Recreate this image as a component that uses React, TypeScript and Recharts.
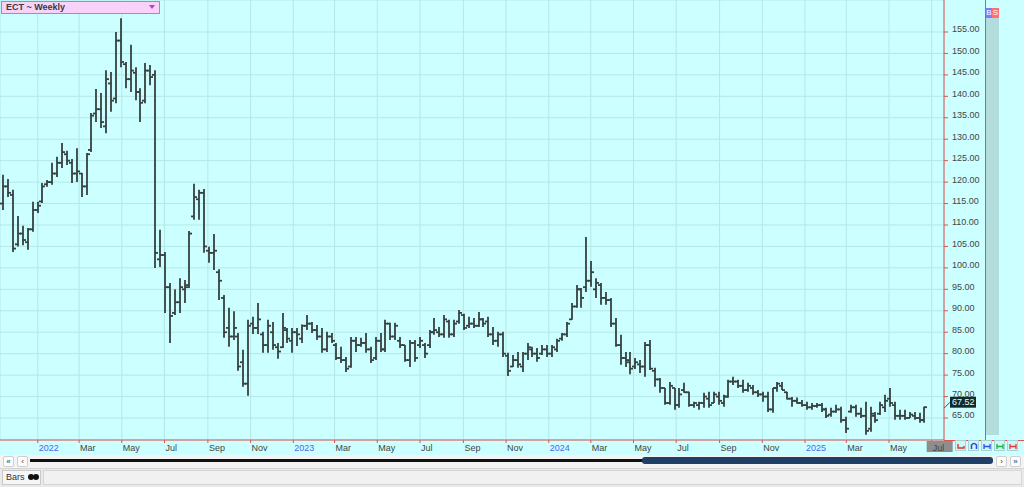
import React from "react";
import { Bar, CartesianGrid, ComposedChart, ReferenceDot, XAxis, YAxis } from "recharts";

// weekly bars, first bar week of 2021-11-13
const weekStart = "2021-11-13";

const highs = [
  121.7, 120.7, 118.2, 112.1, 109.8, 109.3, 115.4, 115.4, 119.8, 120.5,
  124.5, 125.9, 129.1, 127.3, 125.4, 127.9, 122.1, 126.8, 136.1, 141.7,
  140.8, 146.1, 145.7, 155.0, 158.2, 148.0, 152.0, 146.8, 141.9, 147.8,
  147.3, 146.1, 108.9, 103.7, 96.5, 95.0, 97.6, 97.2, 108.6, 119.6,
  118.2, 118.4, 104.9, 107.9, 99.7, 93.7, 90.7, 89.9, 84.8, 80.9,
  87.9, 88.6, 91.8, 85.1, 87.9, 87.4, 82.5, 89.5, 86.0, 86.0,
  86.0, 86.8, 89.0, 87.4, 86.7, 86.0, 85.1, 84.8, 82.5, 81.6,
  79.2, 83.9, 83.9, 83.7, 84.8, 81.6, 83.9, 84.8, 87.9, 87.2,
  87.2, 83.9, 82.0, 83.2, 83.2, 83.9, 82.5, 85.5, 88.3, 86.2,
  89.0, 87.9, 87.9, 90.2, 89.3, 88.6, 88.3, 89.7, 88.3, 88.6,
  86.2, 85.1, 85.1, 80.2, 79.7, 80.4, 80.4, 82.5, 81.6, 81.3,
  82.0, 82.0, 82.0, 83.5, 84.8, 87.4, 91.8, 96.0, 95.3, 107.2,
  101.6, 97.6, 96.5, 94.4, 93.0, 88.3, 84.4, 80.4, 80.4, 79.0,
  78.5, 82.7, 83.2, 76.7, 74.3, 72.0, 73.4, 72.0, 72.0, 73.2,
  71.1, 68.8, 68.8, 70.9, 71.1, 71.1, 71.1, 70.4, 73.9, 74.6,
  73.9, 73.9, 73.2, 72.7, 71.5, 71.1, 71.1, 72.0, 73.4, 73.4,
  71.1, 69.9, 69.8, 69.2, 68.8, 68.5, 68.5, 68.5, 67.4, 67.4,
  68.1, 67.6, 65.3, 68.1, 68.1, 67.4, 68.8, 67.6, 66.4, 68.8,
  70.4, 72.0, 68.8, 66.9, 66.9, 66.4, 66.4, 66.2, 67.6,
];

const lows = [
  113.5, 116.5, 103.7, 105.0, 105.3, 104.2, 108.4, 112.8, 115.1, 118.9,
  119.4, 121.2, 123.3, 124.0, 119.8, 120.0, 116.5, 117.0, 127.0, 134.0,
  132.6, 131.4, 136.4, 138.4, 146.8, 141.9, 141.0, 139.1, 134.0, 138.4,
  142.6, 100.0, 100.2, 89.5, 82.5, 89.0, 89.5, 91.8, 95.3, 111.2,
  111.2, 103.5, 101.2, 99.5, 92.5, 83.7, 81.6, 83.2, 76.0, 72.3,
  70.2, 84.6, 84.6, 80.2, 80.2, 80.9, 78.8, 81.3, 82.5, 80.2,
  81.8, 82.5, 85.5, 84.8, 83.2, 80.2, 80.4, 82.5, 78.5, 77.8,
  75.7, 76.7, 80.4, 81.6, 80.2, 77.8, 78.5, 80.4, 80.4, 83.2,
  83.2, 81.3, 78.1, 76.9, 78.1, 81.3, 79.0, 81.3, 84.4, 83.9,
  83.7, 83.7, 83.9, 87.0, 85.5, 86.0, 86.0, 86.2, 86.2, 83.9,
  82.0, 81.6, 79.2, 74.8, 76.9, 76.7, 75.7, 78.5, 79.2, 78.1,
  79.7, 79.2, 79.2, 80.4, 83.0, 83.9, 87.9, 90.7, 90.7, 94.4,
  95.6, 93.0, 91.4, 91.4, 86.2, 81.6, 77.4, 76.9, 75.2, 76.4,
  75.5, 74.6, 76.2, 72.3, 70.9, 68.1, 68.1, 66.9, 67.4, 70.9,
  67.6, 67.4, 66.9, 67.4, 67.4, 68.5, 68.1, 67.6, 69.7, 72.7,
  72.0, 70.9, 71.1, 70.4, 69.9, 68.8, 66.4, 66.2, 71.1, 71.5,
  69.3, 67.6, 68.3, 67.6, 66.9, 66.9, 67.4, 66.4, 65.0, 65.3,
  66.2, 63.9, 61.5, 66.2, 65.3, 65.0, 61.1, 61.8, 63.9, 65.7,
  66.4, 67.6, 64.6, 64.6, 64.6, 65.0, 64.6, 63.9, 63.9,
];

const opens = [
  115, 119, 117, 105.5, 108, 106, 109, 113.5, 115.5, 119.5,
  120, 122, 124.5, 126.5, 124.5, 122, 122, 119, 127.5, 136,
  137, 133, 143, 139.5, 153, 147.5, 144, 145.5, 141, 139,
  146, 145, 102, 103, 95.5, 89.5, 92, 95, 96, 112,
  116, 117.5, 104, 103.5, 99, 93, 86, 84, 84, 78,
  73, 87, 86, 84.5, 82, 85, 81.5, 81.5, 85.5, 83,
  85, 83.5, 86.5, 87, 85.5, 84, 81, 84, 82, 79,
  78.5, 77, 83, 82, 82.5, 81, 79, 83, 81, 87,
  84, 83, 82, 78.5, 82.5, 82, 82, 82, 85, 85,
  84.5, 87.5, 84.5, 87.5, 89, 86.5, 87, 86.5, 88, 87.5,
  84.5, 83, 84.5, 79.5, 77, 78.5, 77, 80, 81, 80,
  80, 81, 80, 81, 83.5, 84.5, 88, 91, 95, 95.5,
  97, 95, 96, 93, 92.5, 87, 82, 79, 78, 77,
  77.5, 77, 82, 76, 74, 72, 68.5, 72, 68, 71.5,
  71, 68, 68, 68.5, 69.5, 68.5, 70, 68.5, 70, 73.5,
  73.5, 72.5, 71.5, 72, 71, 70.5, 70, 67, 72, 72.5,
  71, 69.5, 69, 68.5, 68, 67.5, 67.8, 68, 67, 65.8,
  66.5, 67, 64.5, 66.5, 67.5, 66, 65.5, 62.5, 65.5, 66,
  67.5, 69.5, 68, 65.5, 65.5, 65, 65.5, 65, 64.5,
];

const closes = [
  119, 117.5, 104.5, 108, 106.5, 109, 113.5, 114.5, 119, 120,
  122, 124.5, 127, 125, 122, 122.5, 119, 126.5, 135.5, 137,
  134, 144, 139, 153, 148, 144, 146, 141, 138.5, 146,
  144.5, 103.5, 103, 95.5, 88.8, 92, 95.5, 95.5, 108, 116.5,
  117.5, 105, 103.5, 104, 97, 85, 84, 86, 77, 73,
  86.5, 86, 88, 82, 86.5, 82, 80.5, 86, 83.5, 85,
  84.5, 86.5, 87, 85.5, 84, 81, 84, 83, 79, 78.5,
  76.5, 83, 82, 82.5, 81, 78.5, 83, 81, 87, 84,
  86.5, 82, 78.5, 82.5, 79, 83, 80, 85, 85.5, 84.5,
  88, 84.5, 87, 89.5, 86, 87, 86.5, 88, 87, 84.5,
  83, 84.5, 80, 76, 78.5, 77.5, 80, 81.5, 80, 79,
  81, 80, 81.5, 83, 84.5, 87, 91, 95, 93, 97,
  99, 96.5, 93, 92.5, 87, 82, 79, 78.5, 76.5, 78,
  77, 82, 76.5, 74, 72, 68.5, 72.5, 68, 70.5, 71,
  68, 68.5, 68.5, 70, 68, 70.5, 69, 70, 73.5, 73.5,
  72.5, 71.5, 72.5, 71, 70.5, 70, 67, 72, 73, 71.5,
  69.5, 69, 68.5, 68, 67.5, 67.8, 68, 67, 65.5, 66.5,
  67, 64.5, 62.5, 67.5, 66, 65.5, 62, 66, 64.5, 68,
  69, 68.5, 65.5, 65.5, 65, 65.8, 65, 64.5, 67.52,
];

const monthTicks = [
  "2022-01-01", "2022-03-01", "2022-05-01", "2022-07-01", "2022-09-01", "2022-11-01",
  "2023-01-01", "2023-03-01", "2023-05-01", "2023-07-01", "2023-09-01", "2023-11-01",
  "2024-01-01", "2024-03-01", "2024-05-01", "2024-07-01", "2024-09-01", "2024-11-01",
  "2025-01-01", "2025-03-01", "2025-05-01", "2025-07-01",
];
const monthNames = ["Jan", "Feb", "Mar", "Apr", "May", "Jun", "Jul", "Aug", "Sep", "Oct", "Nov", "Dec"];
const priceTicks = [65, 70, 75, 80, 85, 90, 95, 100, 105, 110, 115, 120, 125, 130, 135, 140, 145, 150, 155];

const DAY = 86400000;
const t0 = Date.parse(weekStart + "T00:00:00Z");
const dayOf = (iso: string) => Math.round((Date.parse(iso + "T00:00:00Z") - t0) / DAY);
const tickDays = monthTicks.map(dayOf);
const X_MIN = -5;
const X_MAX = 1343.6;

const rows = highs.map((high, i) => ({
  t: i * 7,
  high,
  low: lows[i],
  open: opens[i],
  close: closes[i],
  range: [lows[i], high],
}));
const lastClose = closes[closes.length - 1];

const RED = "#e2524f";
const INK = "#364040";
const FONT = '"Liberation Sans", Arial, sans-serif';

function OhlcBar(props: any) {
  const { x, y, width, height, payload } = props;
  if (!payload) return null;
  const top = Math.min(y, y + height);
  const h = Math.abs(height);
  const cx = Math.round(x + width / 2);
  const span = payload.high - payload.low || 1;
  const yOf = (v: number) => top + ((payload.high - v) / span) * h;
  const yo = yOf(payload.open);
  const yc = yOf(payload.close);
  return (
    <g stroke={INK} strokeWidth={1.8}>
      <line x1={cx} x2={cx} y1={top} y2={top + h} />
      <line x1={cx - 3} x2={cx} y1={yo} y2={yo} />
      <line x1={cx} x2={cx + 3} y1={yc} y2={yc} />
    </g>
  );
}

function MonthTick(props: any) {
  const { x, payload } = props;
  const d = new Date(t0 + payload.value * DAY);
  const m = d.getUTCMonth();
  const isYear = m === 0;
  const isLast = payload.value === tickDays[tickDays.length - 1];
  return (
    <g>
      {isLast && <rect x={x - 5} y={441} width={26} height={11} fill="#8d8d8d" />}
      <text x={x + 1} y={451} fontSize={9} fontFamily={FONT} fill={isYear ? "#4f63f0" : "#444"}>
        {isYear ? String(d.getUTCFullYear()) : monthNames[m]}
      </text>
    </g>
  );
}

function PriceTick(props: any) {
  const { y, payload } = props;
  return (
    <text x={952} y={y + 0.5} fontSize={9} fontFamily={FONT} fill="#444">
      {payload.value.toFixed(2)}
    </text>
  );
}

function PriceTag(props: any) {
  const { cx, cy } = props;
  return (
    <g>
      <line x1={cx} y1={cy + 1} x2={cx + 6} y2={cy - 5} stroke="#3a5a5a" strokeWidth={1} />
      <rect x={cx + 6} y={cy - 10.5} width={26} height={11} fill="#0f2b2b" />
      <text x={cx + 8} y={cy - 2} fontSize={9} fontFamily={FONT} fill="#e6ffff">
        {lastClose.toFixed(2)}
      </text>
    </g>
  );
}

const btn: React.CSSProperties = {
  position: "absolute",
  width: 11,
  height: 11,
  background: "#fdfdfd",
  border: "1px solid #cfcfcf",
  borderRadius: 2,
  fontSize: 8,
  lineHeight: "10px",
  textAlign: "center",
  color: "#333",
  boxSizing: "border-box",
};

// small toolbar icon: colour + which glyph
function ToolButton({ left, color, kind }: { left: number; color: string; kind: string }) {
  return (
    <svg
      width={11}
      height={11}
      style={{ position: "absolute", left, top: 440, background: "#cff6f6", border: "1px solid #a6d4d4", boxSizing: "border-box" }}
    >
      {kind === "floor" && <path d="M2 3 V7 H8 V5" fill="none" stroke={color} strokeWidth={1.4} />}
      {kind === "arch" && <path d="M2.5 8 V4 Q5 1 7.5 4 V8" fill="none" stroke={color} strokeWidth={1.6} />}
      {kind === "span" && <path d="M2 3 V8 M8 3 V8 M2 5.5 H8" fill="none" stroke={color} strokeWidth={1.3} />}
    </svg>
  );
}

export default function App() {
  return (
    <div
      style={{
        position: "fixed",
        left: 0,
        top: 0,
        width: 1024,
        height: 487,
        overflow: "hidden",
        background: "#ececec",
        fontFamily: FONT,
      }}
    >
      <div style={{ position: "absolute", left: 0, top: 0, width: 1024, height: 455, background: "#ccffff" }} />
      <div style={{ position: "absolute", left: 0, top: 0 }}>
        <ComposedChart width={985} height={455} data={rows} margin={{ top: 0, right: 0, bottom: 0, left: 0 }}>
          <CartesianGrid stroke="#b4e8e8" />
          <XAxis
            type="number"
            dataKey="t"
            domain={[X_MIN, X_MAX]}
            allowDataOverflow
            ticks={tickDays}
            interval={0}
            height={15}
            stroke={RED}
            tickLine={{ stroke: RED }}
            tickSize={3}
            tick={(p: any) => <MonthTick {...p} />}
          />
          <YAxis
            orientation="right"
            domain={[59.87, 162.46]}
            allowDataOverflow
            ticks={priceTicks}
            interval={0}
            width={41}
            stroke={RED}
            tickLine={{ stroke: RED }}
            tickSize={4}
            tick={(p: any) => <PriceTick {...p} />}
          />
          <Bar dataKey="range" shape={OhlcBar} barSize={5} isAnimationActive={false} />
          <ReferenceDot x={X_MAX} y={lastClose} r={0} ifOverflow="visible" shape={PriceTag} />
        </ComposedChart>
      </div>

      {/* symbol label */}
      <div
        style={{
          position: "absolute",
          left: 1,
          top: 1,
          width: 159,
          height: 13,
          boxSizing: "border-box",
          background: "#f8d2f8",
          border: "1px solid #d070d0",
          fontSize: 9,
          fontWeight: "bold",
          lineHeight: "11px",
          paddingLeft: 4,
          color: "#3a3a3a",
        }}
      >
        ECT ~ Weekly
        <div
          style={{
            position: "absolute",
            right: 4,
            top: 3,
            width: 0,
            height: 0,
            borderLeft: "3.5px solid transparent",
            borderRight: "3.5px solid transparent",
            borderTop: "4px solid #c03cc0",
          }}
        />
      </div>

      {/* right side panel */}
      <div style={{ position: "absolute", left: 985, top: 0, width: 1, height: 440, background: RED }} />
      <div style={{ position: "absolute", left: 944, top: 440, width: 80, height: 1, background: RED }} />
      <div style={{ position: "absolute", left: 986, top: 18, width: 13, height: 417, background: "#b3dcdc" }} />
      <div style={{ position: "absolute", left: 986, top: 8, width: 6, height: 10, background: "#7c7cff", color: "#fff", fontSize: 8, lineHeight: "10px", textAlign: "center" }}>B</div>
      <div style={{ position: "absolute", left: 992, top: 8, width: 7, height: 10, background: "#ff7070", color: "#fff", fontSize: 8, lineHeight: "10px", textAlign: "center" }}>S</div>

      {/* toolbar buttons */}
      <ToolButton left={955} color="#e03030" kind="floor" />
      <ToolButton left={968} color="#2f4fe0" kind="arch" />
      <ToolButton left={981} color="#2f4fe0" kind="span" />
      <ToolButton left={994} color="#22b040" kind="span" />
      <ToolButton left={1007} color="#e03a3a" kind="span" />

      {/* scroll row */}
      <div style={{ position: "absolute", left: 0, top: 455, width: 1024, height: 13, background: "#f3f3f3" }} />
      <div style={{ ...btn, left: 3, top: 456 }}>«</div>
      <div style={{ ...btn, left: 17, top: 456 }}>‹</div>
      <div style={{ position: "absolute", left: 30, top: 459, width: 614, height: 3, background: "#111" }} />
      <div style={{ position: "absolute", left: 642, top: 457, width: 351, height: 7, borderRadius: 3, background: "#1f3f66" }} />
      <div style={{ ...btn, left: 996, top: 456 }}>›</div>
      <div style={{ ...btn, left: 1010, top: 456 }}>»</div>

      {/* bottom tab row */}
      <div style={{ position: "absolute", left: 0, top: 468, width: 1024, height: 19, background: "#e9e9e9", borderTop: "1px solid #d4d4d4" }} />
      <div
        style={{
          position: "absolute",
          left: 2,
          top: 470,
          width: 39,
          height: 15,
          boxSizing: "border-box",
          background: "#f6f6f6",
          border: "1px solid #c9c9c9",
          fontSize: 9,
          lineHeight: "13px",
          paddingLeft: 3,
          color: "#333",
          whiteSpace: "nowrap",
        }}
      >
        Bars{" "}
        <span style={{ display: "inline-block", width: 6, height: 6, borderRadius: 3, background: "#111", marginLeft: 1 }} />
        <span style={{ display: "inline-block", width: 6, height: 6, borderRadius: 3, background: "#111", marginLeft: -1 }} />
      </div>
      <div
        style={{
          position: "absolute",
          left: 43,
          top: 470,
          width: 979,
          height: 15,
          boxSizing: "border-box",
          background: "#f1f1f1",
          border: "1px solid #d6d6d6",
        }}
      />
    </div>
  );
}
